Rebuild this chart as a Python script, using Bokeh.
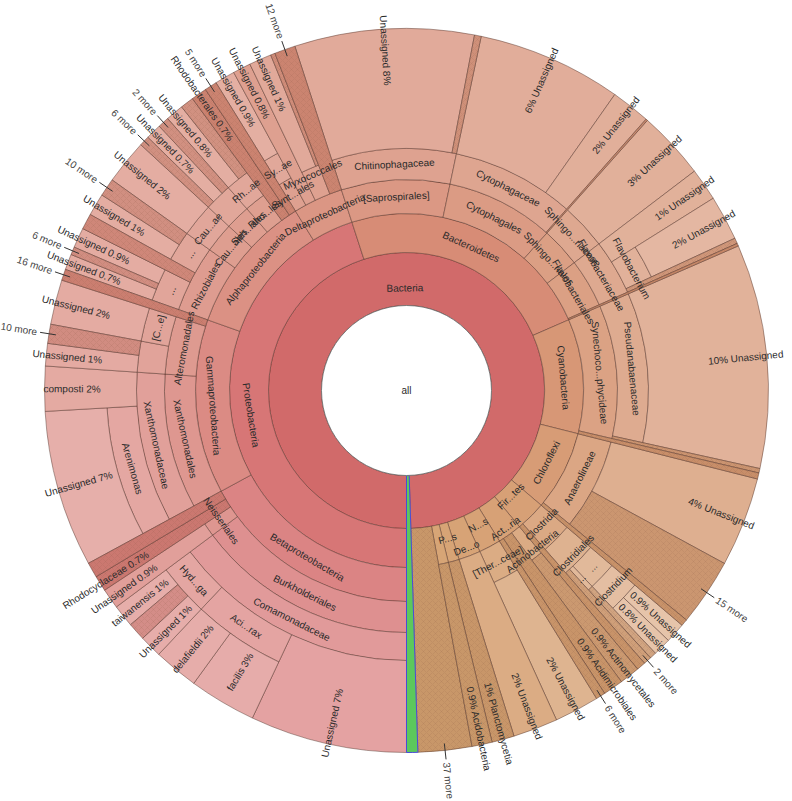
import math
import colorsys
from bokeh.plotting import figure
from bokeh.models import ColumnDataSource, Range1d
from bokeh.embed import file_html
from bokeh.resources import INLINE
from bokeh.core.properties import value

# ---------------- data: (id, parent, percent or None, label) ----------------
ROOT_NODES = [
    ("Bacteria", "all", None, "Bacteria"),
    ("Other", "all", 0.5, ""),
]
PHYLUM_NODES = [
    ("Proteobacteria", "Bacteria", None, "Proteobacteria"),
    ("Bacteroidetes", "Bacteria", None, "Bacteroidetes"),
    ("Cyanobacteria", "Bacteria", None, "Cyanobacteria"),
    ("Chloroflexi", "Bacteria", None, "Chloroflexi"),
    ("Firmicutes", "Bacteria", None, "Fir...tes"),
    ("Actinobacteria", "Bacteria", None, "Act...ria"),
    ("Nitrospirae", "Bacteria", None, "N...s"),
    ("Deinococcus", "Bacteria", None, "De...o"),
    ("Planctomycetes", "Bacteria", None, "P...s"),
    ("Acidobacteria", "Bacteria", None, ""),
    ("m:Bacteria", "Bacteria", 2.4, "37 more"),
]
BETA_NODES = [
    ("Betaproteobacteria", "Proteobacteria", None, "Betaproteobacteria"),
    ("Burkholderiales", "Betaproteobacteria", None, "Burkholderiales"),
    ("Comamonadaceae", "Burkholderiales", None, "Comamonadaceae"),
    ("Coma/U", "Comamonadaceae", 7.0, "Unassigned"),
    ("Acidovorax", "Comamonadaceae", None, "Aci...rax"),
    ("facilis", "Acidovorax", 3.0, "facilis"),
    ("delafieldii", "Acidovorax", 2.0, "delafieldii"),
    ("Hydrogenophaga", "Comamonadaceae", None, "Hyd...ga"),
    ("Hydro/U", "Hydrogenophaga", 1.0, "Unassigned"),
    ("m:Hydro", "Hydrogenophaga", 0.8, ""),
    ("taiwanensis", "Hydrogenophaga", 1.0, "taiwanensis"),
    ("Neisseriales", "Betaproteobacteria", None, "Neisseriales"),
    ("Neiss/U", "Neisseriales", 0.9, "Unassigned"),
    ("Rhodocyclaceae", "Betaproteobacteria", 0.7, "Rhodocyclaceae"),
    ("m:Beta", "Betaproteobacteria", 0.68, ""),
]
GAMMA_NODES = [
    ("Gammaproteobacteria", "Proteobacteria", None, "Gammaproteobacteria"),
    ("Xanthomonadales", "Gammaproteobacteria", None, "Xanthomonadales"),
    ("Xanthomonadaceae", "Xanthomonadales", None, "Xanthomonadaceae"),
    ("Arenimonas", "Xanthomonadaceae", None, "Arenimonas"),
    ("Arenimonas/U", "Arenimonas", 7.0, "Unassigned"),
    ("composti", "Xanthomonadaceae", 2.0, "composti"),
    ("Alteromonadales", "Gammaproteobacteria", None, "Alteromonadales"),
    ("Altero/fX", "Alteromonadales", None, ""),
    ("Altero/fX/U", "Altero/fX", 1.0, "Unassigned"),
    ("m:Altero/fX", "Altero/fX", 0.85, "10 more"),
    ("Chromatiaceae", "Alteromonadales", None, "[C...e]"),
    ("Chromat/U", "Chromatiaceae", 2.0, "Unassigned"),
    ("m:Gamma", "Gammaproteobacteria", 0.5, "16 more"),
]
ALPHA_NODES = [
    ("Alphaproteobacteria", "Proteobacteria", None, "Alphaproteobacteria"),
    ("Rhizobiales", "Alphaproteobacteria", None, "Rhizobiales"),
    ("Rhiz/fA", "Rhizobiales", None, "..."),
    ("Rhiz/fA/U1", "Rhiz/fA", 0.7, "Unassigned"),
    ("m:Rhiz/fA", "Rhiz/fA", 0.35, "6 more"),
    ("Rhiz/fA/U2", "Rhiz/fA", 0.9, "Unassigned"),
    ("Rhiz/fB", "Rhizobiales", 0.7, ""),
    ("Rhiz/fC", "Rhizobiales", None, "..."),
    ("Rhiz/fC/U", "Rhiz/fC", 1.0, "Unassigned"),
    ("m:Rhiz/fC", "Rhiz/fC", 0.8, "10 more"),
    ("Caulobacterales", "Alphaproteobacteria", None, "Cau...ales"),
    ("Caulobacteraceae", "Caulobacterales", None, "Cau...ae"),
    ("Caulo/U", "Caulobacteraceae", 2.0, "Unassigned"),
    ("Sphingomonadales", "Alphaproteobacteria", None, "Sph...ales"),
    ("Sphingomonadaceae", "Sphingomonadales", None, ""),
    ("m:Sphingo", "Sphingomonadaceae", 0.45, "6 more"),
    ("Sphingo/U", "Sphingomonadaceae", 0.7, "Unassigned"),
    ("m:Sphingo2", "Sphingomonadaceae", 0.5, "2 more"),
    ("Rhodospirillales", "Alphaproteobacteria", None, "Rho...les"),
    ("Rhodospirillaceae", "Rhodospirillales", None, "Rh...ae"),
    ("Rhodospi/U", "Rhodospirillaceae", 0.8, "Unassigned"),
    ("Rhodospi/x", "Rhodospirillaceae", 0.6, ""),
    ("Rhodobacterales", "Alphaproteobacteria", 0.7, "Rhodobacterales"),
    ("m:Alpha", "Alphaproteobacteria", 0.55, "5 more"),
]
DELTA_NODES = [
    ("Deltaproteobacteria", "Proteobacteria", None, "Deltaproteobacteria"),
    ("Syntrophobacterales", "Deltaproteobacteria", None, "Synt...ales"),
    ("Syntrophobacteraceae", "Syntrophobacterales", None, "Sy...ae"),
    ("Synt/U", "Syntrophobacteraceae", 0.9, "Unassigned"),
    ("Delta/U", "Deltaproteobacteria", 0.8, "Unassigned"),
    ("Myxococcales", "Deltaproteobacteria", None, "Myxococcales"),
    ("Myxo/U", "Myxococcales", 1.0, "Unassigned"),
    ("Myxo/x", "Myxococcales", 0.2, ""),
    ("m:Delta", "Deltaproteobacteria", 0.93, "12 more"),
]
BACTEROIDETES_NODES = [
    ("Saprospirales", "Bacteroidetes", None, "[Saprospirales]"),
    ("Chitinophagaceae", "Saprospirales", None, "Chitinophagaceae"),
    ("Chitino/U", "Chitinophagaceae", 8.0, "Unassigned"),
    ("Chitino/x", "Chitinophagaceae", 0.3, ""),
    ("Cytophagales", "Bacteroidetes", None, "Cytophagales"),
    ("Cytophagaceae", "Cytophagales", None, "Cytophagaceae"),
    ("Cyto/U1", "Cytophagaceae", 6.45, "Unassigned"),
    ("Cyto/U2", "Cytophagaceae", 1.75, "Unassigned"),
    ("Cyto/x", "Cytophagales", 0.08, ""),
    ("Sphingobacteriales", "Bacteroidetes", None, "Sphingo...riales"),
    ("Sphingobacteriaceae", "Sphingobacteriales", None, "Sphingo...riaceae"),
    ("Sphingob/U", "Sphingobacteriaceae", 3.05, "Unassigned"),
    ("Flavobacteriales", "Bacteroidetes", None, "Flavobacteriales"),
    ("Flavobacteriaceae", "Flavobacteriales", None, "Flavobacteriaceae"),
    ("Flavo/U", "Flavobacteriaceae", 1.45, "Unassigned"),
    ("Flavobacterium", "Flavobacteriaceae", None, "Flavobacterium"),
    ("Flavobacterium/U", "Flavobacterium", 2.0, "Unassigned"),
    ("Flavo/x", "Flavobacteriaceae", 0.25, ""),
    ("m:Bacteroidetes", "Bacteroidetes", 0.12, ""),
]
CYANO_NODES = [
    ("Synechococcophycideae", "Cyanobacteria", None, "Synechoco...phycideae"),
    ("Pseudanabaenaceae", "Synechococcophycideae", None, "Pseudanabaenaceae"),
    ("Pseud/U", "Pseudanabaenaceae", 10.0, "Unassigned"),
    ("Synec/x", "Synechococcophycideae", 0.2, ""),
    ("Cyano/x", "Cyanobacteria", 0.27, ""),
]
CHLORO_NODES = [
    ("Anaerolineae", "Chloroflexi", None, "Anaerolineae"),
    ("Anaero/U", "Anaerolineae", 4.0, "Unassigned"),
    ("m:Anaero", "Anaerolineae", 3.0, "15 more"),
    ("Chloro/x", "Chloroflexi", 0.3, ""),
]
FIRMI_NODES = [
    ("Clostridia", "Firmicutes", None, "Clostridia"),
    ("Clostridiales", "Clostridia", None, "Clostridiales"),
    ("Clostridiaceae", "Clostridiales", None, "..."),
    ("Clostridium", "Clostridiaceae", None, "Clostridium"),
    ("Clostridium/U1", "Clostridium", 0.9, "Unassigned"),
    ("Clostridium/U2", "Clostridium", 0.8, "Unassigned"),
    ("Clost/f2", "Clostridiales", None, "..."),
    ("Clost/f2/x", "Clost/f2", 0.3, ""),
    ("m:Clostridiales", "Clostridiales", 0.35, "2 more"),
    ("Firmi/x", "Firmicutes", 0.4, ""),
]
ACTINO_NODES = [
    ("ActinobacteriaC", "Actinobacteria", None, "Actinobacteria"),
    ("Actinomycetales", "ActinobacteriaC", 0.9, "Actinomycetales"),
    ("Acidimicrobiales", "Actinobacteria", 0.9, "Acidimicrobiales"),
    ("m:Actino", "Actinobacteria", 0.42, "6 more"),
]
SMALL_PHYLA_NODES = [
    ("Thermodesulfo", "Nitrospirae", None, "[Ther...ceae]"),
    ("Thermodesulfo/U", "Thermodesulfo", 2.0, "Unassigned"),
    ("Deino/U", "Deinococcus", 2.0, "Unassigned"),
    ("Planctomycetia", "Planctomycetes", 1.0, "Planctomycetia"),
    ("AcidobacteriaC", "Acidobacteria", 0.9, "Acidobacteria"),
]
# nodes whose hidden children make Krona draw them textured
TEXTURED_LEAVES = ["Rhodocyclaceae", "Rhodobacterales", "Actinomycetales",
                   "Acidimicrobiales", "AcidobacteriaC", "Planctomycetia",
                   "Clost/f2/x", "Firmi/x", "Chloro/x", "Cyano/x", "Rhiz/fB",
                   "Rhodospi/x", "Myxo/x", "Chitino/x", "Flavo/x", "Synec/x",
                   "Cyto/x"]
# radial nudges of crowded ring labels (staggering as in the original)
LABEL_NUDGE = {
    "Bacteria": -9, "Firmicutes": -9, "Actinobacteria": 12, "Nitrospirae": -5,
    "Deinococcus": 11, "Planctomycetes": -4, "Clostridia": -4,
    "ActinobacteriaC": 10, "Clostridiales": 8, "Myxococcales": 9,
}

# ---------------- geometry ----------------
W, H = 792, 800
CX, CY = 406, H - 390
R_IN = [0, 85, 138, 177, 211, 242, 270, 300]
R_OUTER = 362
LEAF_LABEL_R = 303
START = 180.0

ALL_NODES = (ROOT_NODES + PHYLUM_NODES + BETA_NODES + GAMMA_NODES + ALPHA_NODES
             + DELTA_NODES + BACTEROIDETES_NODES + CYANO_NODES + CHLORO_NODES
             + FIRMI_NODES + ACTINO_NODES + SMALL_PHYLA_NODES)

children, info = {}, {}
for nid, par, val, lab in ALL_NODES:
    children.setdefault(par, []).append(nid)
    info[nid] = (par, val, lab)


def total(n):
    v = info[n][1]
    if v is not None:
        return v
    return sum(total(c) for c in children.get(n, []))


geom = {}


def lay(n, start, depth):
    t = total(n)
    geom[n] = (start, start + t * 3.6, depth, t)
    cur = start
    for c in children.get(n, []):
        lay(c, cur, depth + 1)
        cur = geom[c][1]


cur = START
for c in children["all"]:
    lay(c, cur, 1)
    cur = geom[c][1]

LIGHT = {1: 0.62, 2: 0.655, 3: 0.69, 4: 0.72, 5: 0.745, 6: 0.765, 7: 0.785}


def is_textured(n):
    return n.startswith("m:") or n in TEXTURED_LEAVES


def color_for(n):
    s, e, d, t = geom[n]
    frac = ((s - START) % 360.0) / 360.0
    hue = 30.0 * frac / 360.0
    light = LIGHT[d]
    sat = 0.53 if d == 1 else 0.55
    if is_textured(n):
        light = max(0.6, light - 0.1)
        sat = 0.47
    r, g, b = colorsys.hls_to_rgb(hue, light, sat)
    return "#%02x%02x%02x" % (int(r * 255), int(g * 255), int(b * 255))


def pol(r, th):
    t = math.radians(th)
    return CX + r * math.sin(t), CY + r * math.cos(t)


def norm(a):
    return ((a + 90.0) % 180.0) - 90.0


def pct(v):
    return "%.1f%%" % v if v < 1 else "%d%%" % round(v)


def empty():
    return dict(x=[], y=[], ri=[], ro=[], a0=[], a1=[], c=[])


plain, hatched, other = empty(), empty(), empty()
lab_c = dict(x=[], y=[], t=[], a=[])
lab_l = dict(x=[], y=[], t=[], a=[])
lab_r = dict(x=[], y=[], t=[], a=[])
more_l = dict(x=[], y=[], t=[], a=[])
more_r = dict(x=[], y=[], t=[], a=[])
ticks = dict(x0=[], y0=[], x1=[], y1=[])

for n in info:
    s, e, d, t = geom[n]
    leaf = n not in children
    ri = R_IN[d]
    ro = R_OUTER if leaf else R_IN[d + 1]
    tgt = other if n == "Other" else (hatched if is_textured(n) else plain)
    tgt["x"].append(CX); tgt["y"].append(CY)
    tgt["ri"].append(ri); tgt["ro"].append(ro)
    tgt["a0"].append(math.radians(90 - e)); tgt["a1"].append(math.radians(90 - s))
    tgt["c"].append("#5cc85c" if n == "Other" else color_for(n))
    lab = info[n][2]
    if not lab:
        continue
    mid = (s + e) / 2.0
    base = 90.0 - mid
    ang = norm(base)
    outward = abs(((ang - base) + 180) % 360 - 180) < 1
    if n.startswith("m:"):
        x0, y0 = pol(R_OUTER - 7, mid)
        x1, y1 = pol(R_OUTER + 9, mid)
        ticks["x0"].append(x0); ticks["y0"].append(y0)
        ticks["x1"].append(x1); ticks["y1"].append(y1)
        x, y = pol(R_OUTER + 12, mid)
        dst = more_l if outward else more_r
        dst["x"].append(x); dst["y"].append(y); dst["t"].append(lab)
        dst["a"].append(math.radians(ang))
    elif leaf:
        x, y = pol(LEAF_LABEL_R, mid)
        if outward:
            lab_l["x"].append(x); lab_l["y"].append(y)
            lab_l["t"].append(pct(t) + "  " + lab); lab_l["a"].append(math.radians(ang))
        else:
            lab_r["x"].append(x); lab_r["y"].append(y)
            lab_r["t"].append(lab + "  " + pct(t)); lab_r["a"].append(math.radians(ang))
    else:
        rm = (ri + ro) / 2.0 + LABEL_NUDGE.get(n, 0)
        x, y = pol(rm, mid)
        lab_c["x"].append(x); lab_c["y"].append(y); lab_c["t"].append(lab)
        lab_c["a"].append(math.radians(norm(-mid)))

p = figure(width=W, height=H, x_range=Range1d(0, W), y_range=Range1d(0, H),
           output_backend="svg", toolbar_location=None, min_border=0)
p.axis.visible = False
p.grid.visible = False
p.outline_line_color = None
p.background_fill_color = "white"

LINE = dict(line_color="#4a2a20", line_alpha=0.55, line_width=0.8)
p.annular_wedge(x="x", y="y", inner_radius="ri", outer_radius="ro",
                start_angle="a0", end_angle="a1", fill_color="c",
                source=ColumnDataSource(plain), **LINE)
p.annular_wedge(x="x", y="y", inner_radius="ri", outer_radius="ro",
                start_angle="a0", end_angle="a1", fill_color="c",
                hatch_pattern="diagonal_cross", hatch_color="#8a5a44",
                hatch_alpha=0.22, hatch_scale=6, hatch_weight=0.6,
                source=ColumnDataSource(hatched), **LINE)
p.annular_wedge(x="x", y="y", inner_radius="ri", outer_radius="ro",
                start_angle="a0", end_angle="a1", fill_color="c",
                line_color="#4b4bd8", line_width=1.0,
                source=ColumnDataSource(other))
p.circle(x=[CX], y=[CY], radius=R_IN[1], fill_color="white",
         line_color="#666666", line_width=0.8)

FONT = value("Liberation Sans")
TXT = dict(text_font=FONT, text_font_size="10px", text_color="#2a2a2a",
           text_baseline="middle")
p.text(x="x", y="y", text="t", angle="a", text_align="center",
       source=ColumnDataSource(lab_c), **TXT)
p.text(x="x", y="y", text="t", angle="a", text_align="left",
       source=ColumnDataSource(lab_l), **TXT)
p.text(x="x", y="y", text="t", angle="a", text_align="right",
       source=ColumnDataSource(lab_r), **TXT)
MT = dict(text_font=FONT, text_font_size="10px", text_color="#444444",
          text_baseline="middle")
p.text(x="x", y="y", text="t", angle="a", text_align="left",
       source=ColumnDataSource(more_l), **MT)
p.text(x="x", y="y", text="t", angle="a", text_align="right",
       source=ColumnDataSource(more_r), **MT)
p.segment(x0="x0", y0="y0", x1="x1", y1="y1", line_color="#333333",
          line_width=1, source=ColumnDataSource(ticks))
p.text(x=[CX], y=[CY], text=["all"], text_align="center", **TXT)

open("out.html", "w").write(file_html(p, INLINE))
